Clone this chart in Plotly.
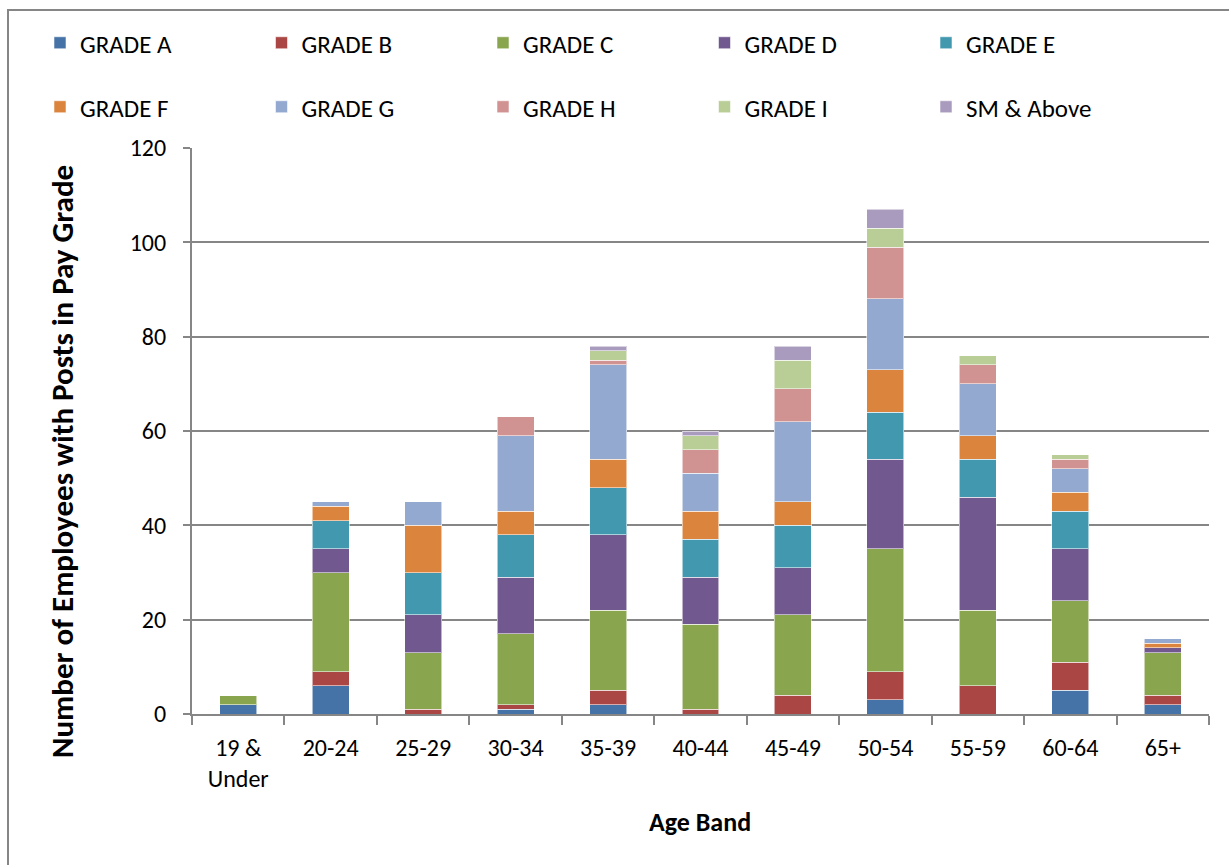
import plotly.graph_objects as go

# Age bands (x categories)
age_bands = ["19 &<br>Under", "20-24", "25-29", "30-34", "35-39", "40-44",
             "45-49", "50-54", "55-59", "60-64", "65+"]

# Employees per pay grade in each age band
grade_a = [2, 6, 0, 1, 2, 0, 0, 3, 0, 5, 2]
grade_b = [0, 3, 1, 1, 3, 1, 4, 6, 6, 6, 2]
grade_c = [2, 21, 12, 15, 17, 18, 17, 26, 16, 13, 9]
grade_d = [0, 5, 8, 12, 16, 10, 10, 19, 24, 11, 1]
grade_e = [0, 6, 9, 9, 10, 8, 9, 10, 8, 8, 0]
grade_f = [0, 3, 10, 5, 6, 6, 5, 9, 5, 4, 1]
grade_g = [0, 1, 5, 16, 20, 8, 17, 15, 11, 5, 1]
grade_h = [0, 0, 0, 4, 1, 5, 7, 11, 4, 2, 0]
grade_i = [0, 0, 0, 0, 2, 3, 6, 4, 2, 1, 0]
sm_above = [0, 0, 0, 0, 1, 1, 3, 4, 0, 0, 0]

series_names = ["GRADE A", "GRADE B", "GRADE C", "GRADE D", "GRADE E",
                "GRADE F", "GRADE G", "GRADE H", "GRADE I", "SM & Above"]
series_values = [grade_a, grade_b, grade_c, grade_d, grade_e,
                 grade_f, grade_g, grade_h, grade_i, sm_above]
series_colors = ["#4572A7", "#AA4643", "#89A54E", "#71588F", "#4198AF",
                 "#DB843D", "#93A9CF", "#D19392", "#B9CD96", "#A99BBD"]

W, H = 1229, 865
PL, PR, PT, PB = 192, 1209, 148, 714  # plot area in pixels
FONT = "Carlito, Lato, sans-serif"
GRID = "#868686"

# legend grid: 5 columns x 2 rows, one single-entry legend per series
LEG_X0, LEG_DX = 40, 221.5
LEG_ROWS_Y = [43, 107]


def px_x(px):
    return (px - PL) / (PR - PL)


def px_y(py):
    return (PB - py) / (PB - PT)


fig = go.Figure()
legends = {}
for i, (name, vals, col) in enumerate(zip(series_names, series_values, series_colors)):
    lid = f"legend{i + 2}"
    fig.add_trace(go.Bar(
        x=age_bands, y=vals, name=name, showlegend=True,
        marker=dict(color=col, line=dict(color="rgba(255,255,255,0.55)", width=1)),
        legend=lid,
    ))
    row, colno = divmod(i, 5)
    legends[lid] = dict(
        x=(LEG_X0 + colno * LEG_DX) / W, y=1 - LEG_ROWS_Y[row] / H,
        xref="container", yref="container",
        xanchor="left", yanchor="middle", orientation="h",
        font=dict(family=FONT, size=25, color="#000000"),
        bgcolor="rgba(0,0,0,0)", borderwidth=0,
        itemclick=False, itemdoubleclick=False,
    )

fig.update_layout(
    width=W, height=H, showlegend=True,
    margin=dict(l=PL, r=W - PR, t=PT, b=H - PB, pad=0, autoexpand=False),
    paper_bgcolor="white", plot_bgcolor="white",
    barmode="stack", bargap=0.6,
    font=dict(family=FONT, size=24, color="#000000"),
    **legends,
    xaxis=dict(
        type="category", showgrid=False,
        showline=True, linecolor=GRID, linewidth=2,
        ticks="outside", tickson="boundaries", ticklen=9, tickwidth=2, tickcolor=GRID,
        tickfont=dict(family=FONT, size=24),
        ticklabelstandoff=11,
    ),
    yaxis=dict(
        range=[0, 120], dtick=20, tick0=0,
        showgrid=True, gridcolor=GRID, gridwidth=2,
        showline=True, linecolor=GRID, linewidth=2,
        ticks="outside", ticklen=7, tickwidth=2, tickcolor=GRID,
        tickfont=dict(family=FONT, size=24),
        ticklabelstandoff=12, zeroline=False,
    ),
    shapes=[dict(
        type="rect", xref="paper", yref="paper",
        x0=px_x(8), x1=px_x(1240), y0=px_y(880), y1=px_y(10),
        line=dict(color=GRID, width=2), fillcolor="rgba(0,0,0,0)", layer="below",
    )],
    annotations=[
        dict(text="<b>Number of Employees with Posts in Pay Grade</b>",
             xref="paper", yref="paper", x=px_x(62), y=px_y(462),
             xanchor="center", yanchor="middle", textangle=-90, showarrow=False,
             font=dict(family=FONT, size=31, color="#000000")),
        dict(text="<b>Age Band</b>",
             xref="paper", yref="paper", x=px_x(700), y=px_y(822),
             xanchor="center", yanchor="middle", showarrow=False,
             font=dict(family=FONT, size=26, color="#000000")),
    ],
)

fig.write_html("out.html")
